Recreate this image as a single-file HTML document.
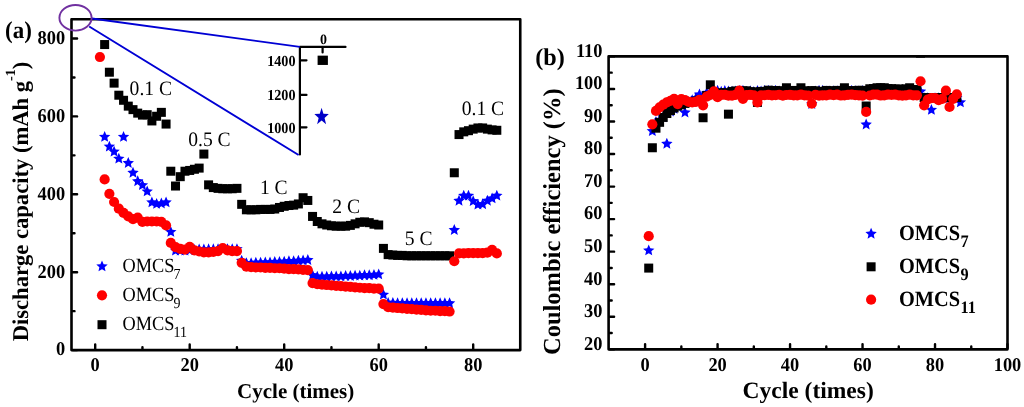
<!DOCTYPE html><html><head><meta charset="utf-8"><style>html,body{margin:0;padding:0;background:#fff;width:1024px;height:407px;overflow:hidden}svg{display:block;will-change:transform}text{font-family:"Liberation Serif",serif}</style></head><body>
<svg width="1024" height="407" viewBox="0 0 1024 407" text-rendering="geometricPrecision">
<defs><clipPath id="ca"><rect x="71.5" y="19" width="448.75" height="331.1"/></clipPath><clipPath id="cb"><rect x="608.6" y="56.4" width="398.9" height="292.95"/></clipPath></defs>
<g clip-path="url(#ca)">
<rect x="100.15" y="40.05" width="9" height="9" fill="#000"/>
<rect x="104.88" y="67.72" width="9" height="9" fill="#000"/>
<rect x="109.60" y="78.63" width="9" height="9" fill="#000"/>
<rect x="114.33" y="90.71" width="9" height="9" fill="#000"/>
<rect x="119.05" y="95.78" width="9" height="9" fill="#000"/>
<rect x="123.78" y="101.63" width="9" height="9" fill="#000"/>
<rect x="128.50" y="105.13" width="9" height="9" fill="#000"/>
<rect x="133.22" y="108.64" width="9" height="9" fill="#000"/>
<rect x="137.95" y="110.59" width="9" height="9" fill="#000"/>
<rect x="142.68" y="110.20" width="9" height="9" fill="#000"/>
<rect x="147.40" y="116.44" width="9" height="9" fill="#000"/>
<rect x="152.12" y="111.76" width="9" height="9" fill="#000"/>
<rect x="156.85" y="107.86" width="9" height="9" fill="#000"/>
<rect x="161.57" y="119.56" width="9" height="9" fill="#000"/>
<rect x="166.30" y="166.72" width="9" height="9" fill="#000"/>
<rect x="171.02" y="181.53" width="9" height="9" fill="#000"/>
<rect x="175.75" y="172.17" width="9" height="9" fill="#000"/>
<rect x="180.47" y="166.72" width="9" height="9" fill="#000"/>
<rect x="185.20" y="165.94" width="9" height="9" fill="#000"/>
<rect x="189.93" y="164.77" width="9" height="9" fill="#000"/>
<rect x="194.65" y="163.60" width="9" height="9" fill="#000"/>
<rect x="199.38" y="149.57" width="9" height="9" fill="#000"/>
<rect x="204.10" y="180.36" width="9" height="9" fill="#000"/>
<rect x="208.82" y="183.08" width="9" height="9" fill="#000"/>
<rect x="213.55" y="183.86" width="9" height="9" fill="#000"/>
<rect x="218.27" y="184.25" width="9" height="9" fill="#000"/>
<rect x="223.00" y="184.25" width="9" height="9" fill="#000"/>
<rect x="227.72" y="184.25" width="9" height="9" fill="#000"/>
<rect x="232.45" y="183.86" width="9" height="9" fill="#000"/>
<rect x="237.18" y="199.84" width="9" height="9" fill="#000"/>
<rect x="241.90" y="205.30" width="9" height="9" fill="#000"/>
<rect x="246.62" y="205.30" width="9" height="9" fill="#000"/>
<rect x="251.35" y="205.30" width="9" height="9" fill="#000"/>
<rect x="256.07" y="204.91" width="9" height="9" fill="#000"/>
<rect x="260.80" y="204.91" width="9" height="9" fill="#000"/>
<rect x="265.52" y="204.91" width="9" height="9" fill="#000"/>
<rect x="270.25" y="204.52" width="9" height="9" fill="#000"/>
<rect x="274.97" y="202.96" width="9" height="9" fill="#000"/>
<rect x="279.70" y="201.79" width="9" height="9" fill="#000"/>
<rect x="284.43" y="201.01" width="9" height="9" fill="#000"/>
<rect x="289.15" y="200.62" width="9" height="9" fill="#000"/>
<rect x="293.88" y="199.45" width="9" height="9" fill="#000"/>
<rect x="298.60" y="193.22" width="9" height="9" fill="#000"/>
<rect x="303.32" y="195.95" width="9" height="9" fill="#000"/>
<rect x="308.05" y="211.93" width="9" height="9" fill="#000"/>
<rect x="312.77" y="216.99" width="9" height="9" fill="#000"/>
<rect x="317.50" y="219.33" width="9" height="9" fill="#000"/>
<rect x="322.22" y="220.50" width="9" height="9" fill="#000"/>
<rect x="326.95" y="221.28" width="9" height="9" fill="#000"/>
<rect x="331.68" y="221.67" width="9" height="9" fill="#000"/>
<rect x="336.40" y="221.67" width="9" height="9" fill="#000"/>
<rect x="341.12" y="221.67" width="9" height="9" fill="#000"/>
<rect x="345.85" y="220.89" width="9" height="9" fill="#000"/>
<rect x="350.57" y="219.33" width="9" height="9" fill="#000"/>
<rect x="355.30" y="217.77" width="9" height="9" fill="#000"/>
<rect x="360.02" y="217.38" width="9" height="9" fill="#000"/>
<rect x="364.75" y="218.16" width="9" height="9" fill="#000"/>
<rect x="369.47" y="219.72" width="9" height="9" fill="#000"/>
<rect x="374.20" y="220.50" width="9" height="9" fill="#000"/>
<rect x="378.92" y="243.89" width="9" height="9" fill="#000"/>
<rect x="383.65" y="250.12" width="9" height="9" fill="#000"/>
<rect x="388.37" y="250.51" width="9" height="9" fill="#000"/>
<rect x="393.10" y="250.90" width="9" height="9" fill="#000"/>
<rect x="397.82" y="250.90" width="9" height="9" fill="#000"/>
<rect x="402.55" y="251.29" width="9" height="9" fill="#000"/>
<rect x="407.27" y="251.29" width="9" height="9" fill="#000"/>
<rect x="412.00" y="251.29" width="9" height="9" fill="#000"/>
<rect x="416.72" y="251.29" width="9" height="9" fill="#000"/>
<rect x="421.45" y="251.29" width="9" height="9" fill="#000"/>
<rect x="426.17" y="251.29" width="9" height="9" fill="#000"/>
<rect x="430.90" y="251.29" width="9" height="9" fill="#000"/>
<rect x="435.62" y="251.29" width="9" height="9" fill="#000"/>
<rect x="440.35" y="251.29" width="9" height="9" fill="#000"/>
<rect x="445.07" y="251.29" width="9" height="9" fill="#000"/>
<rect x="449.80" y="168.27" width="9" height="9" fill="#000"/>
<rect x="454.52" y="130.08" width="9" height="9" fill="#000"/>
<rect x="459.25" y="127.35" width="9" height="9" fill="#000"/>
<rect x="463.97" y="126.18" width="9" height="9" fill="#000"/>
<rect x="468.70" y="124.62" width="9" height="9" fill="#000"/>
<rect x="473.42" y="123.45" width="9" height="9" fill="#000"/>
<rect x="478.15" y="123.45" width="9" height="9" fill="#000"/>
<rect x="482.87" y="124.62" width="9" height="9" fill="#000"/>
<rect x="487.60" y="125.40" width="9" height="9" fill="#000"/>
<rect x="492.32" y="125.79" width="9" height="9" fill="#000"/>
<polygon points="104.65,130.92 106.27,134.68 110.36,135.06 107.27,137.77 108.18,141.77 104.65,139.68 101.12,141.77 102.03,137.77 98.94,135.06 103.03,134.68" fill="#0000ff"/>
<polygon points="109.38,140.66 111.00,144.43 115.08,144.81 112.00,147.51 112.90,151.51 109.38,149.42 105.85,151.51 106.75,147.51 103.67,144.81 107.75,144.43" fill="#0000ff"/>
<polygon points="114.10,145.73 115.72,149.49 119.81,149.87 116.72,152.58 117.63,156.58 114.10,154.49 110.57,156.58 111.48,152.58 108.39,149.87 112.48,149.49" fill="#0000ff"/>
<polygon points="118.83,152.74 120.45,156.51 124.53,156.89 121.45,159.60 122.35,163.60 118.83,161.50 115.30,163.60 116.20,159.60 113.12,156.89 117.20,156.51" fill="#0000ff"/>
<polygon points="123.55,130.92 125.17,134.68 129.26,135.06 126.17,137.77 127.08,141.77 123.55,139.68 120.02,141.77 120.93,137.77 117.84,135.06 121.93,134.68" fill="#0000ff"/>
<polygon points="128.28,157.03 129.90,160.80 133.98,161.18 130.90,163.88 131.80,167.88 128.28,165.79 124.75,167.88 125.65,163.88 122.57,161.18 126.65,160.80" fill="#0000ff"/>
<polygon points="133.00,166.77 134.62,170.54 138.71,170.92 135.62,173.63 136.53,177.63 133.00,175.53 129.47,177.63 130.38,173.63 127.29,170.92 131.38,170.54" fill="#0000ff"/>
<polygon points="137.72,175.35 139.35,179.12 143.43,179.49 140.35,182.20 141.25,186.20 137.72,184.11 134.20,186.20 135.10,182.20 132.02,179.49 136.10,179.12" fill="#0000ff"/>
<polygon points="142.45,179.25 144.07,183.01 148.16,183.39 145.07,186.10 145.98,190.10 142.45,188.01 138.92,190.10 139.83,186.10 136.74,183.39 140.83,183.01" fill="#0000ff"/>
<polygon points="147.18,185.48 148.80,189.25 152.88,189.63 149.80,192.33 150.70,196.34 147.18,194.24 143.65,196.34 144.55,192.33 141.47,189.63 145.55,189.25" fill="#0000ff"/>
<polygon points="151.90,196.40 153.52,200.16 157.61,200.54 154.52,203.25 155.43,207.25 151.90,205.16 148.37,207.25 149.28,203.25 146.19,200.54 150.28,200.16" fill="#0000ff"/>
<polygon points="156.62,197.95 158.25,201.72 162.33,202.10 159.25,204.81 160.15,208.81 156.62,206.71 153.10,208.81 154.00,204.81 150.92,202.10 155.00,201.72" fill="#0000ff"/>
<polygon points="161.35,197.56 162.97,201.33 167.06,201.71 163.97,204.42 164.88,208.42 161.35,206.32 157.82,208.42 158.73,204.42 155.64,201.71 159.73,201.33" fill="#0000ff"/>
<polygon points="166.07,196.40 167.70,200.16 171.78,200.54 168.70,203.25 169.60,207.25 166.07,205.16 162.55,207.25 163.45,203.25 160.37,200.54 164.45,200.16" fill="#0000ff"/>
<polygon points="170.80,226.02 172.42,229.78 176.51,230.16 173.42,232.87 174.33,236.87 170.80,234.78 167.27,236.87 168.18,232.87 165.09,230.16 169.18,229.78" fill="#0000ff"/>
<polygon points="175.52,244.72 177.15,248.49 181.23,248.87 178.15,251.58 179.05,255.58 175.52,253.48 172.00,255.58 172.90,251.58 169.82,248.87 173.90,248.49" fill="#0000ff"/>
<polygon points="180.25,244.72 181.87,248.49 185.96,248.87 182.87,251.58 183.78,255.58 180.25,253.48 176.72,255.58 177.63,251.58 174.54,248.87 178.63,248.49" fill="#0000ff"/>
<polygon points="184.97,244.72 186.60,248.49 190.68,248.87 187.60,251.58 188.50,255.58 184.97,253.48 181.45,255.58 182.35,251.58 179.27,248.87 183.35,248.49" fill="#0000ff"/>
<polygon points="189.70,244.33 191.32,248.10 195.41,248.48 192.32,251.19 193.23,255.19 189.70,253.09 186.17,255.19 187.08,251.19 183.99,248.48 188.08,248.10" fill="#0000ff"/>
<polygon points="194.43,243.94 196.05,247.71 200.13,248.09 197.05,250.80 197.95,254.80 194.43,252.70 190.90,254.80 191.80,250.80 188.72,248.09 192.80,247.71" fill="#0000ff"/>
<polygon points="199.15,243.55 200.77,247.32 204.86,247.70 201.77,250.41 202.68,254.41 199.15,252.31 195.62,254.41 196.53,250.41 193.44,247.70 197.53,247.32" fill="#0000ff"/>
<polygon points="203.88,243.55 205.50,247.32 209.58,247.70 206.50,250.41 207.40,254.41 203.88,252.31 200.35,254.41 201.25,250.41 198.17,247.70 202.25,247.32" fill="#0000ff"/>
<polygon points="208.60,243.36 210.22,247.13 214.31,247.51 211.22,250.21 212.13,254.21 208.60,252.12 205.07,254.21 205.98,250.21 202.89,247.51 206.98,247.13" fill="#0000ff"/>
<polygon points="213.32,243.36 214.95,247.13 219.03,247.51 215.95,250.21 216.85,254.21 213.32,252.12 209.80,254.21 210.70,250.21 207.62,247.51 211.70,247.13" fill="#0000ff"/>
<polygon points="218.05,243.17 219.67,246.93 223.76,247.31 220.67,250.02 221.58,254.02 218.05,251.93 214.52,254.02 215.43,250.02 212.34,247.31 216.43,246.93" fill="#0000ff"/>
<polygon points="222.77,243.17 224.40,246.93 228.48,247.31 225.40,250.02 226.30,254.02 222.77,251.93 219.25,254.02 220.15,250.02 217.07,247.31 221.15,246.93" fill="#0000ff"/>
<polygon points="227.50,243.17 229.12,246.93 233.21,247.31 230.12,250.02 231.03,254.02 227.50,251.93 223.97,254.02 224.88,250.02 221.79,247.31 225.88,246.93" fill="#0000ff"/>
<polygon points="232.22,243.17 233.85,246.93 237.93,247.31 234.85,250.02 235.75,254.02 232.22,251.93 228.70,254.02 229.60,250.02 226.52,247.31 230.60,246.93" fill="#0000ff"/>
<polygon points="236.95,243.17 238.57,246.93 242.66,247.31 239.57,250.02 240.48,254.02 236.95,251.93 233.42,254.02 234.33,250.02 231.24,247.31 235.33,246.93" fill="#0000ff"/>
<polygon points="241.68,254.86 243.30,258.62 247.38,259.00 244.30,261.71 245.20,265.71 241.68,263.62 238.15,265.71 239.05,261.71 235.97,259.00 240.05,258.62" fill="#0000ff"/>
<polygon points="246.40,257.20 248.02,260.96 252.11,261.34 249.02,264.05 249.93,268.05 246.40,265.96 242.87,268.05 243.78,264.05 240.69,261.34 244.78,260.96" fill="#0000ff"/>
<polygon points="251.12,257.20 252.75,260.96 256.83,261.34 253.75,264.05 254.65,268.05 251.12,265.96 247.60,268.05 248.50,264.05 245.42,261.34 249.50,260.96" fill="#0000ff"/>
<polygon points="255.85,256.81 257.47,260.57 261.56,260.95 258.47,263.66 259.38,267.66 255.85,265.57 252.32,267.66 253.23,263.66 250.14,260.95 254.23,260.57" fill="#0000ff"/>
<polygon points="260.57,256.81 262.20,260.57 266.28,260.95 263.20,263.66 264.10,267.66 260.57,265.57 257.05,267.66 257.95,263.66 254.87,260.95 258.95,260.57" fill="#0000ff"/>
<polygon points="265.30,256.42 266.92,260.18 271.01,260.56 267.92,263.27 268.83,267.27 265.30,265.18 261.77,267.27 262.68,263.27 259.59,260.56 263.68,260.18" fill="#0000ff"/>
<polygon points="270.02,256.42 271.65,260.18 275.73,260.56 272.65,263.27 273.55,267.27 270.02,265.18 266.50,267.27 267.40,263.27 264.32,260.56 268.40,260.18" fill="#0000ff"/>
<polygon points="274.75,256.03 276.37,259.79 280.46,260.17 277.37,262.88 278.28,266.88 274.75,264.79 271.22,266.88 272.13,262.88 269.04,260.17 273.13,259.79" fill="#0000ff"/>
<polygon points="279.47,256.03 281.10,259.79 285.18,260.17 282.10,262.88 283.00,266.88 279.47,264.79 275.95,266.88 276.85,262.88 273.77,260.17 277.85,259.79" fill="#0000ff"/>
<polygon points="284.20,255.64 285.82,259.40 289.91,259.78 286.82,262.49 287.73,266.49 284.20,264.40 280.67,266.49 281.58,262.49 278.49,259.78 282.58,259.40" fill="#0000ff"/>
<polygon points="288.93,255.25 290.55,259.01 294.63,259.39 291.55,262.10 292.45,266.10 288.93,264.01 285.40,266.10 286.30,262.10 283.22,259.39 287.30,259.01" fill="#0000ff"/>
<polygon points="293.65,255.25 295.27,259.01 299.36,259.39 296.27,262.10 297.18,266.10 293.65,264.01 290.12,266.10 291.03,262.10 287.94,259.39 292.03,259.01" fill="#0000ff"/>
<polygon points="298.38,254.86 300.00,258.62 304.08,259.00 301.00,261.71 301.90,265.71 298.38,263.62 294.85,265.71 295.75,261.71 292.67,259.00 296.75,258.62" fill="#0000ff"/>
<polygon points="303.10,254.47 304.72,258.23 308.81,258.61 305.72,261.32 306.63,265.32 303.10,263.23 299.57,265.32 300.48,261.32 297.39,258.61 301.48,258.23" fill="#0000ff"/>
<polygon points="307.82,254.08 309.45,257.85 313.53,258.22 310.45,260.93 311.35,264.93 307.82,262.84 304.30,264.93 305.20,260.93 302.12,258.22 306.20,257.85" fill="#0000ff"/>
<polygon points="312.55,269.28 314.17,273.05 318.26,273.42 315.17,276.13 316.08,280.13 312.55,278.04 309.02,280.13 309.93,276.13 306.84,273.42 310.93,273.05" fill="#0000ff"/>
<polygon points="317.27,270.84 318.90,274.60 322.98,274.98 319.90,277.69 320.80,281.69 317.27,279.60 313.75,281.69 314.65,277.69 311.57,274.98 315.65,274.60" fill="#0000ff"/>
<polygon points="322.00,270.84 323.62,274.60 327.71,274.98 324.62,277.69 325.53,281.69 322.00,279.60 318.47,281.69 319.38,277.69 316.29,274.98 320.38,274.60" fill="#0000ff"/>
<polygon points="326.72,270.84 328.35,274.60 332.43,274.98 329.35,277.69 330.25,281.69 326.72,279.60 323.20,281.69 324.10,277.69 321.02,274.98 325.10,274.60" fill="#0000ff"/>
<polygon points="331.45,270.45 333.07,274.21 337.16,274.59 334.07,277.30 334.98,281.30 331.45,279.21 327.92,281.30 328.83,277.30 325.74,274.59 329.83,274.21" fill="#0000ff"/>
<polygon points="336.18,270.45 337.80,274.21 341.88,274.59 338.80,277.30 339.70,281.30 336.18,279.21 332.65,281.30 333.55,277.30 330.47,274.59 334.55,274.21" fill="#0000ff"/>
<polygon points="340.90,270.45 342.52,274.21 346.61,274.59 343.52,277.30 344.43,281.30 340.90,279.21 337.37,281.30 338.28,277.30 335.19,274.59 339.28,274.21" fill="#0000ff"/>
<polygon points="345.62,270.06 347.25,273.82 351.33,274.20 348.25,276.91 349.15,280.91 345.62,278.82 342.10,280.91 343.00,276.91 339.92,274.20 344.00,273.82" fill="#0000ff"/>
<polygon points="350.35,270.06 351.97,273.82 356.06,274.20 352.97,276.91 353.88,280.91 350.35,278.82 346.82,280.91 347.73,276.91 344.64,274.20 348.73,273.82" fill="#0000ff"/>
<polygon points="355.07,269.67 356.70,273.44 360.78,273.81 357.70,276.52 358.60,280.52 355.07,278.43 351.55,280.52 352.45,276.52 349.37,273.81 353.45,273.44" fill="#0000ff"/>
<polygon points="359.80,269.67 361.42,273.44 365.51,273.81 362.42,276.52 363.33,280.52 359.80,278.43 356.27,280.52 357.18,276.52 354.09,273.81 358.18,273.44" fill="#0000ff"/>
<polygon points="364.52,269.28 366.15,273.05 370.23,273.42 367.15,276.13 368.05,280.13 364.52,278.04 361.00,280.13 361.90,276.13 358.82,273.42 362.90,273.05" fill="#0000ff"/>
<polygon points="369.25,269.28 370.87,273.05 374.96,273.42 371.87,276.13 372.78,280.13 369.25,278.04 365.72,280.13 366.63,276.13 363.54,273.42 367.63,273.05" fill="#0000ff"/>
<polygon points="373.97,268.89 375.60,272.66 379.68,273.03 376.60,275.74 377.50,279.74 373.97,277.65 370.45,279.74 371.35,275.74 368.27,273.03 372.35,272.66" fill="#0000ff"/>
<polygon points="378.70,268.50 380.32,272.27 384.41,272.64 381.32,275.35 382.23,279.35 378.70,277.26 375.17,279.35 376.08,275.35 372.99,272.64 377.08,272.27" fill="#0000ff"/>
<polygon points="383.42,288.77 385.05,292.53 389.13,292.91 386.05,295.62 386.95,299.62 383.42,297.53 379.90,299.62 380.80,295.62 377.72,292.91 381.80,292.53" fill="#0000ff"/>
<polygon points="388.15,296.95 389.77,300.72 393.86,301.10 390.77,303.80 391.68,307.80 388.15,305.71 384.62,307.80 385.53,303.80 382.44,301.10 386.53,300.72" fill="#0000ff"/>
<polygon points="392.87,296.95 394.50,300.72 398.58,301.10 395.50,303.80 396.40,307.80 392.87,305.71 389.35,307.80 390.25,303.80 387.17,301.10 391.25,300.72" fill="#0000ff"/>
<polygon points="397.60,297.34 399.22,301.11 403.31,301.49 400.22,304.19 401.13,308.19 397.60,306.10 394.07,308.19 394.98,304.19 391.89,301.49 395.98,301.11" fill="#0000ff"/>
<polygon points="402.32,297.34 403.95,301.11 408.03,301.49 404.95,304.19 405.85,308.19 402.32,306.10 398.80,308.19 399.70,304.19 396.62,301.49 400.70,301.11" fill="#0000ff"/>
<polygon points="407.05,297.34 408.67,301.11 412.76,301.49 409.67,304.19 410.58,308.19 407.05,306.10 403.52,308.19 404.43,304.19 401.34,301.49 405.43,301.11" fill="#0000ff"/>
<polygon points="411.77,297.34 413.40,301.11 417.48,301.49 414.40,304.19 415.30,308.19 411.77,306.10 408.25,308.19 409.15,304.19 406.07,301.49 410.15,301.11" fill="#0000ff"/>
<polygon points="416.50,297.34 418.12,301.11 422.21,301.49 419.12,304.19 420.03,308.19 416.50,306.10 412.97,308.19 413.88,304.19 410.79,301.49 414.88,301.11" fill="#0000ff"/>
<polygon points="421.22,297.34 422.85,301.11 426.93,301.49 423.85,304.19 424.75,308.19 421.22,306.10 417.70,308.19 418.60,304.19 415.52,301.49 419.60,301.11" fill="#0000ff"/>
<polygon points="425.95,297.34 427.57,301.11 431.66,301.49 428.57,304.19 429.48,308.19 425.95,306.10 422.42,308.19 423.33,304.19 420.24,301.49 424.33,301.11" fill="#0000ff"/>
<polygon points="430.67,297.34 432.30,301.11 436.38,301.49 433.30,304.19 434.20,308.19 430.67,306.10 427.15,308.19 428.05,304.19 424.97,301.49 429.05,301.11" fill="#0000ff"/>
<polygon points="435.40,297.34 437.02,301.11 441.11,301.49 438.02,304.19 438.93,308.19 435.40,306.10 431.87,308.19 432.78,304.19 429.69,301.49 433.78,301.11" fill="#0000ff"/>
<polygon points="440.12,297.34 441.75,301.11 445.83,301.49 442.75,304.19 443.65,308.19 440.12,306.10 436.60,308.19 437.50,304.19 434.42,301.49 438.50,301.11" fill="#0000ff"/>
<polygon points="444.85,297.34 446.47,301.11 450.56,301.49 447.47,304.19 448.38,308.19 444.85,306.10 441.32,308.19 442.23,304.19 439.14,301.49 443.23,301.11" fill="#0000ff"/>
<polygon points="449.57,297.34 451.20,301.11 455.28,301.49 452.20,304.19 453.10,308.19 449.57,306.10 446.05,308.19 446.95,304.19 443.87,301.49 447.95,301.11" fill="#0000ff"/>
<polygon points="454.30,224.07 455.92,227.83 460.01,228.21 456.92,230.92 457.83,234.92 454.30,232.83 450.77,234.92 451.68,230.92 448.59,228.21 452.68,227.83" fill="#0000ff"/>
<polygon points="459.02,194.84 460.65,198.60 464.73,198.98 461.65,201.69 462.55,205.69 459.02,203.60 455.50,205.69 456.40,201.69 453.32,198.98 457.40,198.60" fill="#0000ff"/>
<polygon points="463.75,189.77 465.37,193.54 469.46,193.92 466.37,196.62 467.28,200.62 463.75,198.53 460.22,200.62 461.13,196.62 458.04,193.92 462.13,193.54" fill="#0000ff"/>
<polygon points="468.47,189.77 470.10,193.54 474.18,193.92 471.10,196.62 472.00,200.62 468.47,198.53 464.95,200.62 465.85,196.62 462.77,193.92 466.85,193.54" fill="#0000ff"/>
<polygon points="473.20,195.23 474.82,198.99 478.91,199.37 475.82,202.08 476.73,206.08 473.20,203.99 469.67,206.08 470.58,202.08 467.49,199.37 471.58,198.99" fill="#0000ff"/>
<polygon points="477.92,198.73 479.55,202.50 483.63,202.88 480.55,205.59 481.45,209.59 477.92,207.49 474.40,209.59 475.30,205.59 472.22,202.88 476.30,202.50" fill="#0000ff"/>
<polygon points="482.65,198.34 484.27,202.11 488.36,202.49 485.27,205.20 486.18,209.20 482.65,207.10 479.12,209.20 480.03,205.20 476.94,202.49 481.03,202.11" fill="#0000ff"/>
<polygon points="487.37,194.84 489.00,198.60 493.08,198.98 490.00,201.69 490.90,205.69 487.37,203.60 483.85,205.69 484.75,201.69 481.67,198.98 485.75,198.60" fill="#0000ff"/>
<polygon points="492.10,192.50 493.72,196.26 497.81,196.64 494.72,199.35 495.63,203.35 492.10,201.26 488.57,203.35 489.48,199.35 486.39,196.64 490.48,196.26" fill="#0000ff"/>
<polygon points="496.82,189.77 498.45,193.54 502.53,193.92 499.45,196.62 500.35,200.62 496.82,198.53 493.30,200.62 494.20,196.62 491.12,193.92 495.20,193.54" fill="#0000ff"/>
<circle cx="99.92" cy="57.02" r="5.1" fill="#f00"/>
<circle cx="104.65" cy="179.40" r="5.1" fill="#f00"/>
<circle cx="109.38" cy="193.82" r="5.1" fill="#f00"/>
<circle cx="114.10" cy="202.01" r="5.1" fill="#f00"/>
<circle cx="118.83" cy="208.63" r="5.1" fill="#f00"/>
<circle cx="123.55" cy="212.92" r="5.1" fill="#f00"/>
<circle cx="128.28" cy="216.43" r="5.1" fill="#f00"/>
<circle cx="133.00" cy="219.15" r="5.1" fill="#f00"/>
<circle cx="137.72" cy="217.60" r="5.1" fill="#f00"/>
<circle cx="142.45" cy="221.88" r="5.1" fill="#f00"/>
<circle cx="147.18" cy="221.49" r="5.1" fill="#f00"/>
<circle cx="151.90" cy="221.49" r="5.1" fill="#f00"/>
<circle cx="156.62" cy="221.49" r="5.1" fill="#f00"/>
<circle cx="161.35" cy="221.88" r="5.1" fill="#f00"/>
<circle cx="166.07" cy="225.39" r="5.1" fill="#f00"/>
<circle cx="170.80" cy="242.93" r="5.1" fill="#f00"/>
<circle cx="175.52" cy="247.22" r="5.1" fill="#f00"/>
<circle cx="180.25" cy="248.78" r="5.1" fill="#f00"/>
<circle cx="184.97" cy="249.55" r="5.1" fill="#f00"/>
<circle cx="189.70" cy="246.83" r="5.1" fill="#f00"/>
<circle cx="194.43" cy="250.33" r="5.1" fill="#f00"/>
<circle cx="199.15" cy="251.50" r="5.1" fill="#f00"/>
<circle cx="203.88" cy="252.28" r="5.1" fill="#f00"/>
<circle cx="208.60" cy="252.28" r="5.1" fill="#f00"/>
<circle cx="213.32" cy="251.89" r="5.1" fill="#f00"/>
<circle cx="218.05" cy="251.11" r="5.1" fill="#f00"/>
<circle cx="222.77" cy="248.00" r="5.1" fill="#f00"/>
<circle cx="227.50" cy="250.33" r="5.1" fill="#f00"/>
<circle cx="232.22" cy="251.11" r="5.1" fill="#f00"/>
<circle cx="236.95" cy="251.11" r="5.1" fill="#f00"/>
<circle cx="241.68" cy="262.81" r="5.1" fill="#f00"/>
<circle cx="246.40" cy="266.70" r="5.1" fill="#f00"/>
<circle cx="251.12" cy="267.09" r="5.1" fill="#f00"/>
<circle cx="255.85" cy="267.48" r="5.1" fill="#f00"/>
<circle cx="260.57" cy="267.48" r="5.1" fill="#f00"/>
<circle cx="265.30" cy="267.87" r="5.1" fill="#f00"/>
<circle cx="270.02" cy="267.87" r="5.1" fill="#f00"/>
<circle cx="274.75" cy="268.26" r="5.1" fill="#f00"/>
<circle cx="279.47" cy="268.26" r="5.1" fill="#f00"/>
<circle cx="284.20" cy="268.65" r="5.1" fill="#f00"/>
<circle cx="288.93" cy="269.04" r="5.1" fill="#f00"/>
<circle cx="293.65" cy="269.04" r="5.1" fill="#f00"/>
<circle cx="298.38" cy="269.43" r="5.1" fill="#f00"/>
<circle cx="303.10" cy="269.82" r="5.1" fill="#f00"/>
<circle cx="307.82" cy="270.21" r="5.1" fill="#f00"/>
<circle cx="312.55" cy="283.07" r="5.1" fill="#f00"/>
<circle cx="317.27" cy="284.24" r="5.1" fill="#f00"/>
<circle cx="322.00" cy="284.63" r="5.1" fill="#f00"/>
<circle cx="326.72" cy="285.02" r="5.1" fill="#f00"/>
<circle cx="331.45" cy="285.41" r="5.1" fill="#f00"/>
<circle cx="336.18" cy="285.80" r="5.1" fill="#f00"/>
<circle cx="340.90" cy="286.19" r="5.1" fill="#f00"/>
<circle cx="345.62" cy="286.58" r="5.1" fill="#f00"/>
<circle cx="350.35" cy="286.97" r="5.1" fill="#f00"/>
<circle cx="355.07" cy="287.36" r="5.1" fill="#f00"/>
<circle cx="359.80" cy="287.75" r="5.1" fill="#f00"/>
<circle cx="364.52" cy="288.14" r="5.1" fill="#f00"/>
<circle cx="369.25" cy="288.14" r="5.1" fill="#f00"/>
<circle cx="373.97" cy="288.53" r="5.1" fill="#f00"/>
<circle cx="378.70" cy="288.53" r="5.1" fill="#f00"/>
<circle cx="383.42" cy="304.12" r="5.1" fill="#f00"/>
<circle cx="388.15" cy="307.24" r="5.1" fill="#f00"/>
<circle cx="392.87" cy="307.63" r="5.1" fill="#f00"/>
<circle cx="397.60" cy="308.02" r="5.1" fill="#f00"/>
<circle cx="402.32" cy="308.41" r="5.1" fill="#f00"/>
<circle cx="407.05" cy="308.80" r="5.1" fill="#f00"/>
<circle cx="411.77" cy="309.19" r="5.1" fill="#f00"/>
<circle cx="416.50" cy="309.58" r="5.1" fill="#f00"/>
<circle cx="421.22" cy="309.97" r="5.1" fill="#f00"/>
<circle cx="425.95" cy="310.36" r="5.1" fill="#f00"/>
<circle cx="430.67" cy="310.75" r="5.1" fill="#f00"/>
<circle cx="435.40" cy="310.75" r="5.1" fill="#f00"/>
<circle cx="440.12" cy="311.14" r="5.1" fill="#f00"/>
<circle cx="444.85" cy="311.14" r="5.1" fill="#f00"/>
<circle cx="449.57" cy="311.52" r="5.1" fill="#f00"/>
<circle cx="454.30" cy="261.25" r="5.1" fill="#f00"/>
<circle cx="459.02" cy="253.45" r="5.1" fill="#f00"/>
<circle cx="463.75" cy="253.45" r="5.1" fill="#f00"/>
<circle cx="468.47" cy="253.06" r="5.1" fill="#f00"/>
<circle cx="473.20" cy="253.06" r="5.1" fill="#f00"/>
<circle cx="477.92" cy="253.06" r="5.1" fill="#f00"/>
<circle cx="482.65" cy="253.06" r="5.1" fill="#f00"/>
<circle cx="487.37" cy="252.67" r="5.1" fill="#f00"/>
<circle cx="492.10" cy="249.94" r="5.1" fill="#f00"/>
<circle cx="496.82" cy="253.45" r="5.1" fill="#f00"/>
</g>
<rect x="71.5" y="19.2" width="448.75" height="330.9" fill="none" stroke="#000" stroke-width="2.6" stroke-linejoin="round"/>
<path d="M72.8 350.10h4.3 M72.8 311.15h1.7 M72.8 272.20h4.3 M72.8 233.25h1.7 M72.8 194.30h4.3 M72.8 155.35h1.7 M72.8 116.40h4.3 M72.8 77.45h1.7 M72.8 38.50h4.3 M95.20 348.8v-4.4 M142.45 348.8v-1.7 M189.70 348.8v-4.4 M236.95 348.8v-1.7 M284.20 348.8v-4.4 M331.45 348.8v-1.7 M378.70 348.8v-4.4 M425.95 348.8v-1.7 M473.20 348.8v-4.4" stroke="#000" stroke-width="2.4" fill="none" stroke-linecap="round"/>
<text transform="translate(65.10,355.48) scale(1.0,1.06)" font-size="18.4" font-weight="bold" text-anchor="end">0</text>
<text transform="translate(65.10,277.58) scale(1.0,1.06)" font-size="18.4" font-weight="bold" text-anchor="end">200</text>
<text transform="translate(65.10,199.68) scale(1.0,1.06)" font-size="18.4" font-weight="bold" text-anchor="end">400</text>
<text transform="translate(65.10,121.78) scale(1.0,1.06)" font-size="18.4" font-weight="bold" text-anchor="end">600</text>
<text transform="translate(65.10,43.88) scale(1.0,1.06)" font-size="18.4" font-weight="bold" text-anchor="end">800</text>
<text transform="translate(95.20,370.50) scale(1.0,1.06)" font-size="18.4" font-weight="bold" text-anchor="middle">0</text>
<text transform="translate(189.70,370.50) scale(1.0,1.06)" font-size="18.4" font-weight="bold" text-anchor="middle">20</text>
<text transform="translate(284.20,370.50) scale(1.0,1.06)" font-size="18.4" font-weight="bold" text-anchor="middle">40</text>
<text transform="translate(378.70,370.50) scale(1.0,1.06)" font-size="18.4" font-weight="bold" text-anchor="middle">60</text>
<text transform="translate(473.20,370.50) scale(1.0,1.06)" font-size="18.4" font-weight="bold" text-anchor="middle">80</text>
<text x="295.70" y="398.30" font-size="21" font-weight="bold" text-anchor="middle">Cycle (times)</text>
<text transform="translate(27.5,201.5) rotate(-90)" font-size="22.6" font-weight="bold" text-anchor="middle">Discharge capacity (mAh g<tspan dy="-13" font-size="14">-1</tspan><tspan dy="13">)</tspan></text>
<text transform="translate(5.00,38.40) scale(1.0,1.05)" font-size="23.0" font-weight="bold">(a)</text>
<text transform="translate(129.60,95.00) scale(1.0,1.05)" font-size="19.6">0.1 C</text>
<text transform="translate(188.20,146.30) scale(1.0,1.05)" font-size="19.6">0.5 C</text>
<text transform="translate(259.90,194.20) scale(1.0,1.05)" font-size="19.6">1 C</text>
<text transform="translate(332.20,213.00) scale(1.0,1.05)" font-size="19.6">2 C</text>
<text transform="translate(404.80,244.60) scale(1.0,1.05)" font-size="19.6">5 C</text>
<text transform="translate(461.70,115.20) scale(1.0,1.05)" font-size="19.6">0.1 C</text>
<polygon points="102.00,260.40 103.62,264.17 107.71,264.55 104.62,267.25 105.53,271.25 102.00,269.16 98.47,271.25 99.38,267.25 96.29,264.55 100.38,264.17" fill="#0000ff"/>
<circle cx="102.00" cy="295.30" r="5.1" fill="#f00"/>
<rect x="97.50" y="320.20" width="9" height="9" fill="#000"/>
<text transform="translate(122.60,272.10) scale(1.0,1.1)" font-size="18.3">OMCS<tspan dx="-0.8" dy="6.5" font-size="14">7</tspan></text>
<text transform="translate(122.60,300.80) scale(1.0,1.1)" font-size="18.3">OMCS<tspan dx="-0.8" dy="6.5" font-size="14">9</tspan></text>
<text transform="translate(122.60,330.00) scale(1.0,1.1)" font-size="18.3">OMCS<tspan dx="-0.8" dy="6.5" font-size="14">11</tspan></text>
<path d="M299.9 154.4V46.9H345.5M322.6 47.8v4.6" stroke="#000" stroke-width="2.2" fill="none" stroke-linejoin="round" stroke-linecap="round"/>
<path d="M301 60.3h5.5M301 94.9h5.5M301 127.3h5.5" stroke="#000" stroke-width="2.2" fill="none" stroke-linecap="round"/>
<text transform="translate(295.50,65.80) scale(1.0,1.08)" font-size="14.2" font-weight="bold" text-anchor="end">1400</text>
<text transform="translate(295.50,100.20) scale(1.0,1.08)" font-size="14.2" font-weight="bold" text-anchor="end">1200</text>
<text transform="translate(295.50,132.50) scale(1.0,1.08)" font-size="14.2" font-weight="bold" text-anchor="end">1000</text>
<text transform="translate(323.50,43.60) scale(1.0,1.03)" font-size="14" font-weight="bold" text-anchor="middle">0</text>
<rect x="317.6" y="55.65" width="10.3" height="9.3" fill="#000"/>
<g transform="translate(321.6,116.8) scale(1,1.2)"><polygon points="0.00,-7.60 1.83,-2.52 7.23,-2.35 2.96,0.96 4.47,6.15 0.00,3.12 -4.47,6.15 -2.96,0.96 -7.23,-2.35 -1.83,-2.52" fill="#0000c8"/></g>
<path d="M91.9 18.5L299.9 46.9M89.2 26.5L298.6 155" stroke="#0000d4" stroke-width="1.9" fill="none"/>
<ellipse cx="75.5" cy="17.8" rx="16.1" ry="12.8" fill="none" stroke="#7030a0" stroke-width="1.9"/>
<g clip-path="url(#cb)">
<polygon points="648.72,244.48 650.35,248.25 654.43,248.63 651.35,251.33 652.25,255.34 648.72,253.24 645.20,255.34 646.10,251.33 643.02,248.63 647.10,248.25" fill="#0000ff"/>
<polygon points="652.35,125.13 653.97,128.90 658.05,129.27 654.97,131.98 655.87,135.98 652.35,133.89 648.82,135.98 649.72,131.98 646.64,129.27 650.73,128.90" fill="#0000ff"/>
<polygon points="655.97,116.00 657.59,119.77 661.68,120.14 658.60,122.85 659.50,126.85 655.97,124.76 652.45,126.85 653.35,122.85 650.27,120.14 654.35,119.77" fill="#0000ff"/>
<polygon points="659.60,114.37 661.22,118.13 665.30,118.51 662.22,121.22 663.12,125.22 659.60,123.13 656.07,125.22 656.97,121.22 653.89,118.51 657.97,118.13" fill="#0000ff"/>
<polygon points="663.22,111.43 664.84,115.20 668.93,115.58 665.84,118.29 666.75,122.29 663.22,120.19 659.69,122.29 660.60,118.29 657.51,115.58 661.60,115.20" fill="#0000ff"/>
<polygon points="666.84,137.85 668.47,141.61 672.55,141.99 669.47,144.70 670.37,148.70 666.84,146.61 663.32,148.70 664.22,144.70 661.14,141.99 665.22,141.61" fill="#0000ff"/>
<polygon points="670.47,105.56 672.09,109.33 676.17,109.71 673.09,112.42 673.99,116.42 670.47,114.32 666.94,116.42 667.84,112.42 664.76,109.71 668.85,109.33" fill="#0000ff"/>
<polygon points="674.09,102.95 675.71,106.72 679.80,107.10 676.72,109.81 677.62,113.81 674.09,111.71 670.57,113.81 671.47,109.81 668.39,107.10 672.47,106.72" fill="#0000ff"/>
<polygon points="677.72,100.67 679.34,104.44 683.42,104.82 680.34,107.52 681.24,111.53 677.72,109.43 674.19,111.53 675.09,107.52 672.01,104.82 676.09,104.44" fill="#0000ff"/>
<polygon points="681.34,99.04 682.96,102.81 687.05,103.19 683.96,105.89 684.87,109.90 681.34,107.80 677.81,109.90 678.72,105.89 675.63,103.19 679.72,102.81" fill="#0000ff"/>
<polygon points="684.96,106.54 686.59,110.31 690.67,110.69 687.59,113.39 688.49,117.40 684.96,115.30 681.44,117.40 682.34,113.39 679.26,110.69 683.34,110.31" fill="#0000ff"/>
<polygon points="688.59,96.11 690.21,99.87 694.29,100.25 691.21,102.96 692.11,106.96 688.59,104.87 685.06,106.96 685.96,102.96 682.88,100.25 686.97,99.87" fill="#0000ff"/>
<polygon points="692.21,94.15 693.83,97.92 697.92,98.30 694.84,101.00 695.74,105.00 692.21,102.91 688.69,105.00 689.59,101.00 686.51,98.30 690.59,97.92" fill="#0000ff"/>
<polygon points="695.84,92.19 697.46,95.96 701.54,96.34 698.46,99.05 699.36,103.05 695.84,100.95 692.31,103.05 693.21,99.05 690.13,96.34 694.21,95.96" fill="#0000ff"/>
<polygon points="699.46,88.61 701.08,92.37 705.17,92.75 702.08,95.46 702.99,99.46 699.46,97.37 695.93,99.46 696.84,95.46 693.75,92.75 697.84,92.37" fill="#0000ff"/>
<polygon points="703.08,90.56 704.71,94.33 708.79,94.71 705.71,97.42 706.61,101.42 703.08,99.32 699.56,101.42 700.46,97.42 697.38,94.71 701.46,94.33" fill="#0000ff"/>
<polygon points="706.71,86.98 708.33,90.74 712.41,91.12 709.33,93.83 710.23,97.83 706.71,95.74 703.18,97.83 704.08,93.83 701.00,91.12 705.09,90.74" fill="#0000ff"/>
<polygon points="710.33,86.32 711.95,90.09 716.04,90.47 712.96,93.18 713.86,97.18 710.33,95.08 706.81,97.18 707.71,93.18 704.63,90.47 708.71,90.09" fill="#0000ff"/>
<polygon points="713.96,84.89 715.58,88.66 719.66,89.03 716.58,91.74 717.48,95.74 713.96,93.65 710.43,95.74 711.33,91.74 708.25,89.03 712.33,88.66" fill="#0000ff"/>
<polygon points="717.58,84.69 719.20,88.46 723.29,88.84 720.20,91.55 721.11,95.55 717.58,93.45 714.05,95.55 714.96,91.55 711.87,88.84 715.96,88.46" fill="#0000ff"/>
<polygon points="721.20,85.87 722.83,89.63 726.91,90.01 723.83,92.72 724.73,96.72 721.20,94.63 717.68,96.72 718.58,92.72 715.50,90.01 719.58,89.63" fill="#0000ff"/>
<polygon points="724.83,84.95 726.45,88.72 730.53,89.10 727.45,91.81 728.35,95.81 724.83,93.71 721.30,95.81 722.20,91.81 719.12,89.10 723.21,88.72" fill="#0000ff"/>
<polygon points="728.45,85.48 730.07,89.24 734.16,89.62 731.08,92.33 731.98,96.33 728.45,94.24 724.93,96.33 725.83,92.33 722.75,89.62 726.83,89.24" fill="#0000ff"/>
<polygon points="732.08,85.80 733.70,89.57 737.78,89.95 734.70,92.65 735.60,96.66 732.08,94.56 728.55,96.66 729.45,92.65 726.37,89.95 730.45,89.57" fill="#0000ff"/>
<polygon points="735.70,85.61 737.32,89.37 741.41,89.75 738.32,92.46 739.23,96.46 735.70,94.37 732.17,96.46 733.08,92.46 729.99,89.75 734.08,89.37" fill="#0000ff"/>
<polygon points="739.32,84.99 740.95,88.75 745.03,89.13 741.95,91.84 742.85,95.84 739.32,93.75 735.80,95.84 736.70,91.84 733.62,89.13 737.70,88.75" fill="#0000ff"/>
<polygon points="742.95,84.86 744.57,88.62 748.65,89.00 745.57,91.71 746.47,95.71 742.95,93.62 739.42,95.71 740.32,91.71 737.24,89.00 741.33,88.62" fill="#0000ff"/>
<polygon points="746.57,85.93 748.19,89.70 752.28,90.08 749.20,92.78 750.10,96.79 746.57,94.69 743.05,96.79 743.95,92.78 740.87,90.08 744.95,89.70" fill="#0000ff"/>
<polygon points="750.20,85.18 751.82,88.95 755.90,89.33 752.82,92.03 753.72,96.04 750.20,93.94 746.67,96.04 747.57,92.03 744.49,89.33 748.57,88.95" fill="#0000ff"/>
<polygon points="753.82,85.93 755.44,89.70 759.53,90.08 756.44,92.78 757.35,96.79 753.82,94.69 750.29,96.79 751.20,92.78 748.11,90.08 752.20,89.70" fill="#0000ff"/>
<polygon points="757.44,85.05 759.07,88.82 763.15,89.20 760.07,91.90 760.97,95.91 757.44,93.81 753.92,95.91 754.82,91.90 751.74,89.20 755.82,88.82" fill="#0000ff"/>
<polygon points="761.07,85.57 762.69,89.34 766.77,89.72 763.69,92.43 764.59,96.43 761.07,94.33 757.54,96.43 758.44,92.43 755.36,89.72 759.45,89.34" fill="#0000ff"/>
<polygon points="764.69,84.86 766.31,88.62 770.40,89.00 767.32,91.71 768.22,95.71 764.69,93.62 761.17,95.71 762.07,91.71 758.99,89.00 763.07,88.62" fill="#0000ff"/>
<polygon points="768.32,84.73 769.94,88.49 774.02,88.87 770.94,91.58 771.84,95.58 768.32,93.49 764.79,95.58 765.69,91.58 762.61,88.87 766.69,88.49" fill="#0000ff"/>
<polygon points="771.94,85.34 773.56,89.11 777.65,89.49 774.56,92.20 775.47,96.20 771.94,94.10 768.41,96.20 769.32,92.20 766.23,89.49 770.32,89.11" fill="#0000ff"/>
<polygon points="775.56,84.69 777.19,88.46 781.27,88.84 778.19,91.55 779.09,95.55 775.56,93.45 772.04,95.55 772.94,91.55 769.86,88.84 773.94,88.46" fill="#0000ff"/>
<polygon points="779.19,85.61 780.81,89.37 784.89,89.75 781.81,92.46 782.71,96.46 779.19,94.37 775.66,96.46 776.56,92.46 773.48,89.75 777.57,89.37" fill="#0000ff"/>
<polygon points="782.81,85.90 784.43,89.67 788.52,90.05 785.44,92.75 786.34,96.75 782.81,94.66 779.29,96.75 780.19,92.75 777.11,90.05 781.19,89.67" fill="#0000ff"/>
<polygon points="786.44,85.21 788.06,88.98 792.14,89.36 789.06,92.07 789.96,96.07 786.44,93.97 782.91,96.07 783.81,92.07 780.73,89.36 784.81,88.98" fill="#0000ff"/>
<polygon points="790.06,85.96 791.68,89.73 795.77,90.11 792.68,92.82 793.59,96.82 790.06,94.72 786.53,96.82 787.44,92.82 784.35,90.11 788.44,89.73" fill="#0000ff"/>
<polygon points="793.68,85.74 795.31,89.50 799.39,89.88 796.31,92.59 797.21,96.59 793.68,94.50 790.16,96.59 791.06,92.59 787.98,89.88 792.06,89.50" fill="#0000ff"/>
<polygon points="797.31,85.48 798.93,89.24 803.01,89.62 799.93,92.33 800.83,96.33 797.31,94.24 793.78,96.33 794.68,92.33 791.60,89.62 795.69,89.24" fill="#0000ff"/>
<polygon points="800.93,85.21 802.55,88.98 806.64,89.36 803.56,92.07 804.46,96.07 800.93,93.97 797.41,96.07 798.31,92.07 795.23,89.36 799.31,88.98" fill="#0000ff"/>
<polygon points="804.56,85.80 806.18,89.57 810.26,89.95 807.18,92.65 808.08,96.66 804.56,94.56 801.03,96.66 801.93,92.65 798.85,89.95 802.93,89.57" fill="#0000ff"/>
<polygon points="808.18,85.93 809.80,89.70 813.89,90.08 810.80,92.78 811.71,96.79 808.18,94.69 804.65,96.79 805.56,92.78 802.47,90.08 806.56,89.70" fill="#0000ff"/>
<polygon points="811.80,98.06 813.43,101.83 817.51,102.21 814.43,104.92 815.33,108.92 811.80,106.82 808.28,108.92 809.18,104.92 806.10,102.21 810.18,101.83" fill="#0000ff"/>
<polygon points="815.43,85.57 817.05,89.34 821.13,89.72 818.05,92.43 818.95,96.43 815.43,94.33 811.90,96.43 812.80,92.43 809.72,89.72 813.81,89.34" fill="#0000ff"/>
<polygon points="819.05,84.76 820.67,88.53 824.76,88.90 821.68,91.61 822.58,95.61 819.05,93.52 815.53,95.61 816.43,91.61 813.35,88.90 817.43,88.53" fill="#0000ff"/>
<polygon points="822.68,84.82 824.30,88.59 828.38,88.97 825.30,91.68 826.20,95.68 822.68,93.58 819.15,95.68 820.05,91.68 816.97,88.97 821.05,88.59" fill="#0000ff"/>
<polygon points="826.30,85.51 827.92,89.28 832.01,89.65 828.92,92.36 829.83,96.36 826.30,94.27 822.77,96.36 823.68,92.36 820.59,89.65 824.68,89.28" fill="#0000ff"/>
<polygon points="829.92,85.41 831.55,89.18 835.63,89.56 832.55,92.26 833.45,96.26 829.92,94.17 826.40,96.26 827.30,92.26 824.22,89.56 828.30,89.18" fill="#0000ff"/>
<polygon points="833.55,85.31 835.17,89.08 839.25,89.46 836.17,92.17 837.07,96.17 833.55,94.07 830.02,96.17 830.92,92.17 827.84,89.46 831.93,89.08" fill="#0000ff"/>
<polygon points="837.17,85.15 838.79,88.92 842.88,89.30 839.80,92.00 840.70,96.00 837.17,93.91 833.65,96.00 834.55,92.00 831.47,89.30 835.55,88.92" fill="#0000ff"/>
<polygon points="840.80,85.21 842.42,88.98 846.50,89.36 843.42,92.07 844.32,96.07 840.80,93.97 837.27,96.07 838.17,92.07 835.09,89.36 839.17,88.98" fill="#0000ff"/>
<polygon points="844.42,85.28 846.04,89.05 850.13,89.43 847.04,92.13 847.95,96.13 844.42,94.04 840.89,96.13 841.80,92.13 838.71,89.43 842.80,89.05" fill="#0000ff"/>
<polygon points="848.04,85.18 849.67,88.95 853.75,89.33 850.67,92.03 851.57,96.04 848.04,93.94 844.52,96.04 845.42,92.03 842.34,89.33 846.42,88.95" fill="#0000ff"/>
<polygon points="851.67,84.76 853.29,88.53 857.37,88.90 854.29,91.61 855.19,95.61 851.67,93.52 848.14,95.61 849.04,91.61 845.96,88.90 850.05,88.53" fill="#0000ff"/>
<polygon points="855.29,85.34 856.91,89.11 861.00,89.49 857.92,92.20 858.82,96.20 855.29,94.10 851.77,96.20 852.67,92.20 849.59,89.49 853.67,89.11" fill="#0000ff"/>
<polygon points="858.92,85.44 860.54,89.21 864.62,89.59 861.54,92.30 862.44,96.30 858.92,94.20 855.39,96.30 856.29,92.30 853.21,89.59 857.29,89.21" fill="#0000ff"/>
<polygon points="862.54,85.05 864.16,88.82 868.25,89.20 865.16,91.90 866.07,95.91 862.54,93.81 859.01,95.91 859.92,91.90 856.83,89.20 860.92,88.82" fill="#0000ff"/>
<polygon points="866.16,118.61 867.79,122.37 871.87,122.75 868.79,125.46 869.69,129.46 866.16,127.37 862.64,129.46 863.54,125.46 860.46,122.75 864.54,122.37" fill="#0000ff"/>
<polygon points="869.79,85.61 871.41,89.37 875.49,89.75 872.41,92.46 873.31,96.46 869.79,94.37 866.26,96.46 867.16,92.46 864.08,89.75 868.17,89.37" fill="#0000ff"/>
<polygon points="873.41,84.73 875.03,88.49 879.12,88.87 876.04,91.58 876.94,95.58 873.41,93.49 869.89,95.58 870.79,91.58 867.71,88.87 871.79,88.49" fill="#0000ff"/>
<polygon points="877.04,85.31 878.66,89.08 882.74,89.46 879.66,92.17 880.56,96.17 877.04,94.07 873.51,96.17 874.41,92.17 871.33,89.46 875.41,89.08" fill="#0000ff"/>
<polygon points="880.66,85.28 882.28,89.05 886.37,89.43 883.28,92.13 884.19,96.13 880.66,94.04 877.13,96.13 878.04,92.13 874.95,89.43 879.04,89.05" fill="#0000ff"/>
<polygon points="884.28,86.00 885.91,89.76 889.99,90.14 886.91,92.85 887.81,96.85 884.28,94.76 880.76,96.85 881.66,92.85 878.58,90.14 882.66,89.76" fill="#0000ff"/>
<polygon points="887.91,85.44 889.53,89.21 893.61,89.59 890.53,92.30 891.43,96.30 887.91,94.20 884.38,96.30 885.28,92.30 882.20,89.59 886.29,89.21" fill="#0000ff"/>
<polygon points="891.53,85.25 893.15,89.01 897.24,89.39 894.16,92.10 895.06,96.10 891.53,94.01 888.01,96.10 888.91,92.10 885.83,89.39 889.91,89.01" fill="#0000ff"/>
<polygon points="895.16,85.96 896.78,89.73 900.86,90.11 897.78,92.82 898.68,96.82 895.16,94.72 891.63,96.82 892.53,92.82 889.45,90.11 893.53,89.73" fill="#0000ff"/>
<polygon points="898.78,85.18 900.40,88.95 904.49,89.33 901.40,92.03 902.31,96.04 898.78,93.94 895.25,96.04 896.16,92.03 893.07,89.33 897.16,88.95" fill="#0000ff"/>
<polygon points="902.40,85.18 904.03,88.95 908.11,89.33 905.03,92.03 905.93,96.04 902.40,93.94 898.88,96.04 899.78,92.03 896.70,89.33 900.78,88.95" fill="#0000ff"/>
<polygon points="906.03,85.93 907.65,89.70 911.73,90.08 908.65,92.78 909.55,96.79 906.03,94.69 902.50,96.79 903.40,92.78 900.32,90.08 904.41,89.70" fill="#0000ff"/>
<polygon points="909.65,85.18 911.27,88.95 915.36,89.33 912.28,92.03 913.18,96.04 909.65,93.94 906.13,96.04 907.03,92.03 903.95,89.33 908.03,88.95" fill="#0000ff"/>
<polygon points="913.28,85.38 914.90,89.14 918.98,89.52 915.90,92.23 916.80,96.23 913.28,94.14 909.75,96.23 910.65,92.23 907.57,89.52 911.65,89.14" fill="#0000ff"/>
<polygon points="916.90,85.12 918.52,88.88 922.61,89.26 919.52,91.97 920.43,95.97 916.90,93.88 913.37,95.97 914.28,91.97 911.19,89.26 915.28,88.88" fill="#0000ff"/>
<polygon points="920.52,85.54 922.15,89.31 926.23,89.69 923.15,92.39 924.05,96.39 920.52,94.30 917.00,96.39 917.90,92.39 914.82,89.69 918.90,89.31" fill="#0000ff"/>
<polygon points="924.15,92.19 925.77,95.96 929.85,96.34 926.77,99.05 927.67,103.05 924.15,100.95 920.62,103.05 921.52,99.05 918.44,96.34 922.53,95.96" fill="#0000ff"/>
<polygon points="927.77,92.19 929.39,95.96 933.48,96.34 930.40,99.05 931.30,103.05 927.77,100.95 924.25,103.05 925.15,99.05 922.07,96.34 926.15,95.96" fill="#0000ff"/>
<polygon points="931.40,103.93 933.02,107.70 937.10,108.08 934.02,110.79 934.92,114.79 931.40,112.69 927.87,114.79 928.77,110.79 925.69,108.08 929.77,107.70" fill="#0000ff"/>
<polygon points="935.02,92.19 936.64,95.96 940.73,96.34 937.64,99.05 938.55,103.05 935.02,100.95 931.49,103.05 932.40,99.05 929.31,96.34 933.40,95.96" fill="#0000ff"/>
<polygon points="938.64,92.19 940.27,95.96 944.35,96.34 941.27,99.05 942.17,103.05 938.64,100.95 935.12,103.05 936.02,99.05 932.94,96.34 937.02,95.96" fill="#0000ff"/>
<polygon points="942.27,92.19 943.89,95.96 947.97,96.34 944.89,99.05 945.79,103.05 942.27,100.95 938.74,103.05 939.64,99.05 936.56,96.34 940.65,95.96" fill="#0000ff"/>
<polygon points="945.89,92.19 947.51,95.96 951.60,96.34 948.52,99.05 949.42,103.05 945.89,100.95 942.37,103.05 943.27,99.05 940.19,96.34 944.27,95.96" fill="#0000ff"/>
<polygon points="949.52,92.19 951.14,95.96 955.22,96.34 952.14,99.05 953.04,103.05 949.52,100.95 945.99,103.05 946.89,99.05 943.81,96.34 947.89,95.96" fill="#0000ff"/>
<polygon points="953.14,92.19 954.76,95.96 958.85,96.34 955.76,99.05 956.67,103.05 953.14,100.95 949.61,103.05 950.52,99.05 947.43,96.34 951.52,95.96" fill="#0000ff"/>
<polygon points="956.76,92.19 958.39,95.96 962.47,96.34 959.39,99.05 960.29,103.05 956.76,100.95 953.24,103.05 954.14,99.05 951.06,96.34 955.14,95.96" fill="#0000ff"/>
<polygon points="960.39,96.43 962.01,100.20 966.09,100.58 963.01,103.29 963.91,107.29 960.39,105.19 956.86,107.29 957.76,103.29 954.68,100.58 958.77,100.20" fill="#0000ff"/>
<rect x="644.22" y="263.59" width="9" height="9" fill="#000"/>
<rect x="647.85" y="143.26" width="9" height="9" fill="#000"/>
<rect x="651.47" y="123.69" width="9" height="9" fill="#000"/>
<rect x="655.10" y="117.82" width="9" height="9" fill="#000"/>
<rect x="658.72" y="112.93" width="9" height="9" fill="#000"/>
<rect x="662.34" y="109.02" width="9" height="9" fill="#000"/>
<rect x="665.97" y="106.08" width="9" height="9" fill="#000"/>
<rect x="669.59" y="103.48" width="9" height="9" fill="#000"/>
<rect x="673.22" y="101.52" width="9" height="9" fill="#000"/>
<rect x="676.84" y="100.22" width="9" height="9" fill="#000"/>
<rect x="680.46" y="98.91" width="9" height="9" fill="#000"/>
<rect x="684.09" y="97.93" width="9" height="9" fill="#000"/>
<rect x="687.71" y="97.28" width="9" height="9" fill="#000"/>
<rect x="691.34" y="96.63" width="9" height="9" fill="#000"/>
<rect x="694.96" y="95.65" width="9" height="9" fill="#000"/>
<rect x="698.58" y="113.26" width="9" height="9" fill="#000"/>
<rect x="702.21" y="91.08" width="9" height="9" fill="#000"/>
<rect x="705.83" y="80.32" width="9" height="9" fill="#000"/>
<rect x="709.46" y="88.80" width="9" height="9" fill="#000"/>
<rect x="713.08" y="88.48" width="9" height="9" fill="#000"/>
<rect x="716.70" y="88.48" width="9" height="9" fill="#000"/>
<rect x="720.33" y="88.15" width="9" height="9" fill="#000"/>
<rect x="723.95" y="109.67" width="9" height="9" fill="#000"/>
<rect x="727.58" y="86.94" width="9" height="9" fill="#000"/>
<rect x="731.20" y="86.45" width="9" height="9" fill="#000"/>
<rect x="734.82" y="86.75" width="9" height="9" fill="#000"/>
<rect x="738.45" y="86.36" width="9" height="9" fill="#000"/>
<rect x="742.07" y="86.32" width="9" height="9" fill="#000"/>
<rect x="745.70" y="87.24" width="9" height="9" fill="#000"/>
<rect x="749.32" y="87.30" width="9" height="9" fill="#000"/>
<rect x="752.94" y="97.93" width="9" height="9" fill="#000"/>
<rect x="756.57" y="86.91" width="9" height="9" fill="#000"/>
<rect x="760.19" y="86.94" width="9" height="9" fill="#000"/>
<rect x="763.82" y="85.70" width="9" height="9" fill="#000"/>
<rect x="767.44" y="86.55" width="9" height="9" fill="#000"/>
<rect x="771.06" y="85.96" width="9" height="9" fill="#000"/>
<rect x="774.69" y="86.55" width="9" height="9" fill="#000"/>
<rect x="778.31" y="86.29" width="9" height="9" fill="#000"/>
<rect x="781.94" y="83.26" width="9" height="9" fill="#000"/>
<rect x="785.56" y="86.29" width="9" height="9" fill="#000"/>
<rect x="789.18" y="85.93" width="9" height="9" fill="#000"/>
<rect x="792.81" y="86.49" width="9" height="9" fill="#000"/>
<rect x="796.43" y="83.26" width="9" height="9" fill="#000"/>
<rect x="800.06" y="86.23" width="9" height="9" fill="#000"/>
<rect x="803.68" y="87.24" width="9" height="9" fill="#000"/>
<rect x="807.30" y="86.09" width="9" height="9" fill="#000"/>
<rect x="810.93" y="86.36" width="9" height="9" fill="#000"/>
<rect x="814.55" y="86.84" width="9" height="9" fill="#000"/>
<rect x="818.18" y="87.27" width="9" height="9" fill="#000"/>
<rect x="821.80" y="85.93" width="9" height="9" fill="#000"/>
<rect x="825.42" y="86.55" width="9" height="9" fill="#000"/>
<rect x="829.05" y="86.16" width="9" height="9" fill="#000"/>
<rect x="832.67" y="85.90" width="9" height="9" fill="#000"/>
<rect x="836.30" y="86.16" width="9" height="9" fill="#000"/>
<rect x="839.92" y="83.26" width="9" height="9" fill="#000"/>
<rect x="843.54" y="86.68" width="9" height="9" fill="#000"/>
<rect x="847.17" y="86.03" width="9" height="9" fill="#000"/>
<rect x="850.79" y="86.62" width="9" height="9" fill="#000"/>
<rect x="854.42" y="85.80" width="9" height="9" fill="#000"/>
<rect x="858.04" y="85.90" width="9" height="9" fill="#000"/>
<rect x="861.66" y="101.52" width="9" height="9" fill="#000"/>
<rect x="865.29" y="84.27" width="9" height="9" fill="#000"/>
<rect x="868.91" y="84.07" width="9" height="9" fill="#000"/>
<rect x="872.54" y="83.26" width="9" height="9" fill="#000"/>
<rect x="876.16" y="83.26" width="9" height="9" fill="#000"/>
<rect x="879.78" y="83.26" width="9" height="9" fill="#000"/>
<rect x="883.41" y="84.11" width="9" height="9" fill="#000"/>
<rect x="887.03" y="84.20" width="9" height="9" fill="#000"/>
<rect x="890.66" y="84.63" width="9" height="9" fill="#000"/>
<rect x="894.28" y="84.43" width="9" height="9" fill="#000"/>
<rect x="897.90" y="85.12" width="9" height="9" fill="#000"/>
<rect x="901.53" y="84.30" width="9" height="9" fill="#000"/>
<rect x="905.15" y="83.26" width="9" height="9" fill="#000"/>
<rect x="908.78" y="85.02" width="9" height="9" fill="#000"/>
<rect x="912.40" y="85.28" width="9" height="9" fill="#000"/>
<rect x="916.02" y="48.69" width="9" height="9" fill="#000"/>
<rect x="919.65" y="93.04" width="9" height="9" fill="#000"/>
<rect x="923.27" y="93.04" width="9" height="9" fill="#000"/>
<rect x="926.90" y="93.04" width="9" height="9" fill="#000"/>
<rect x="930.52" y="93.04" width="9" height="9" fill="#000"/>
<rect x="934.14" y="93.04" width="9" height="9" fill="#000"/>
<rect x="937.77" y="93.04" width="9" height="9" fill="#000"/>
<rect x="941.39" y="93.04" width="9" height="9" fill="#000"/>
<rect x="945.02" y="93.04" width="9" height="9" fill="#000"/>
<rect x="948.64" y="93.04" width="9" height="9" fill="#000"/>
<rect x="952.26" y="93.04" width="9" height="9" fill="#000"/>
<circle cx="648.72" cy="236.13" r="5.1" fill="#f00"/>
<circle cx="652.35" cy="124.28" r="5.1" fill="#f00"/>
<circle cx="655.97" cy="110.91" r="5.1" fill="#f00"/>
<circle cx="659.60" cy="107.32" r="5.1" fill="#f00"/>
<circle cx="663.22" cy="104.72" r="5.1" fill="#f00"/>
<circle cx="666.84" cy="102.43" r="5.1" fill="#f00"/>
<circle cx="670.47" cy="100.80" r="5.1" fill="#f00"/>
<circle cx="674.09" cy="98.85" r="5.1" fill="#f00"/>
<circle cx="677.72" cy="104.06" r="5.1" fill="#f00"/>
<circle cx="681.34" cy="99.17" r="5.1" fill="#f00"/>
<circle cx="684.96" cy="100.15" r="5.1" fill="#f00"/>
<circle cx="688.59" cy="101.78" r="5.1" fill="#f00"/>
<circle cx="692.21" cy="102.43" r="5.1" fill="#f00"/>
<circle cx="695.84" cy="101.78" r="5.1" fill="#f00"/>
<circle cx="699.46" cy="99.82" r="5.1" fill="#f00"/>
<circle cx="703.08" cy="105.37" r="5.1" fill="#f00"/>
<circle cx="706.71" cy="96.56" r="5.1" fill="#f00"/>
<circle cx="710.33" cy="94.93" r="5.1" fill="#f00"/>
<circle cx="713.96" cy="91.34" r="5.1" fill="#f00"/>
<circle cx="717.58" cy="97.21" r="5.1" fill="#f00"/>
<circle cx="721.20" cy="94.83" r="5.1" fill="#f00"/>
<circle cx="724.83" cy="94.77" r="5.1" fill="#f00"/>
<circle cx="728.45" cy="95.71" r="5.1" fill="#f00"/>
<circle cx="732.08" cy="95.68" r="5.1" fill="#f00"/>
<circle cx="735.70" cy="94.87" r="5.1" fill="#f00"/>
<circle cx="739.32" cy="90.69" r="5.1" fill="#f00"/>
<circle cx="742.95" cy="98.85" r="5.1" fill="#f00"/>
<circle cx="746.57" cy="95.16" r="5.1" fill="#f00"/>
<circle cx="750.20" cy="94.96" r="5.1" fill="#f00"/>
<circle cx="753.82" cy="95.32" r="5.1" fill="#f00"/>
<circle cx="757.44" cy="102.43" r="5.1" fill="#f00"/>
<circle cx="761.07" cy="95.32" r="5.1" fill="#f00"/>
<circle cx="764.69" cy="95.26" r="5.1" fill="#f00"/>
<circle cx="768.32" cy="94.96" r="5.1" fill="#f00"/>
<circle cx="771.94" cy="95.36" r="5.1" fill="#f00"/>
<circle cx="775.56" cy="95.26" r="5.1" fill="#f00"/>
<circle cx="779.19" cy="94.74" r="5.1" fill="#f00"/>
<circle cx="782.81" cy="95.71" r="5.1" fill="#f00"/>
<circle cx="786.44" cy="95.00" r="5.1" fill="#f00"/>
<circle cx="790.06" cy="94.80" r="5.1" fill="#f00"/>
<circle cx="793.68" cy="95.36" r="5.1" fill="#f00"/>
<circle cx="797.31" cy="95.45" r="5.1" fill="#f00"/>
<circle cx="800.93" cy="94.70" r="5.1" fill="#f00"/>
<circle cx="804.56" cy="95.42" r="5.1" fill="#f00"/>
<circle cx="808.18" cy="95.52" r="5.1" fill="#f00"/>
<circle cx="811.80" cy="103.74" r="5.1" fill="#f00"/>
<circle cx="815.43" cy="94.83" r="5.1" fill="#f00"/>
<circle cx="819.05" cy="95.62" r="5.1" fill="#f00"/>
<circle cx="822.68" cy="95.32" r="5.1" fill="#f00"/>
<circle cx="826.30" cy="95.32" r="5.1" fill="#f00"/>
<circle cx="829.92" cy="94.67" r="5.1" fill="#f00"/>
<circle cx="833.55" cy="95.16" r="5.1" fill="#f00"/>
<circle cx="837.17" cy="94.64" r="5.1" fill="#f00"/>
<circle cx="840.80" cy="95.52" r="5.1" fill="#f00"/>
<circle cx="844.42" cy="95.32" r="5.1" fill="#f00"/>
<circle cx="848.04" cy="94.90" r="5.1" fill="#f00"/>
<circle cx="851.67" cy="94.61" r="5.1" fill="#f00"/>
<circle cx="855.29" cy="95.16" r="5.1" fill="#f00"/>
<circle cx="858.92" cy="95.45" r="5.1" fill="#f00"/>
<circle cx="862.54" cy="95.58" r="5.1" fill="#f00"/>
<circle cx="866.16" cy="111.89" r="5.1" fill="#f00"/>
<circle cx="869.79" cy="95.49" r="5.1" fill="#f00"/>
<circle cx="873.41" cy="94.70" r="5.1" fill="#f00"/>
<circle cx="877.04" cy="94.64" r="5.1" fill="#f00"/>
<circle cx="880.66" cy="95.52" r="5.1" fill="#f00"/>
<circle cx="884.28" cy="95.39" r="5.1" fill="#f00"/>
<circle cx="887.91" cy="94.70" r="5.1" fill="#f00"/>
<circle cx="891.53" cy="94.90" r="5.1" fill="#f00"/>
<circle cx="895.16" cy="94.70" r="5.1" fill="#f00"/>
<circle cx="898.78" cy="95.29" r="5.1" fill="#f00"/>
<circle cx="902.40" cy="95.58" r="5.1" fill="#f00"/>
<circle cx="906.03" cy="95.36" r="5.1" fill="#f00"/>
<circle cx="909.65" cy="94.70" r="5.1" fill="#f00"/>
<circle cx="913.28" cy="95.39" r="5.1" fill="#f00"/>
<circle cx="916.90" cy="95.29" r="5.1" fill="#f00"/>
<circle cx="920.52" cy="81.24" r="5.1" fill="#f00"/>
<circle cx="924.15" cy="105.37" r="5.1" fill="#f00"/>
<circle cx="927.77" cy="99.50" r="5.1" fill="#f00"/>
<circle cx="931.40" cy="98.19" r="5.1" fill="#f00"/>
<circle cx="935.02" cy="98.19" r="5.1" fill="#f00"/>
<circle cx="938.64" cy="100.15" r="5.1" fill="#f00"/>
<circle cx="942.27" cy="98.85" r="5.1" fill="#f00"/>
<circle cx="945.89" cy="90.69" r="5.1" fill="#f00"/>
<circle cx="949.52" cy="107.00" r="5.1" fill="#f00"/>
<circle cx="953.14" cy="98.85" r="5.1" fill="#f00"/>
<circle cx="956.76" cy="94.28" r="5.1" fill="#f00"/>
</g>
<rect x="608.6" y="56.4" width="398.9" height="292.95" fill="none" stroke="#000" stroke-width="2.6" stroke-linejoin="round"/>
<path d="M609.9 349.30h4.2 M609.9 333.02h1.8 M609.9 316.75h4.2 M609.9 300.48h1.8 M609.9 284.21h4.2 M609.9 267.94h1.8 M609.9 251.66h4.2 M609.9 235.39h1.8 M609.9 219.12h4.2 M609.9 202.85h1.8 M609.9 186.58h4.2 M609.9 170.30h1.8 M609.9 154.03h4.2 M609.9 137.76h1.8 M609.9 121.49h4.2 M609.9 105.22h1.8 M609.9 88.94h4.2 M609.9 72.67h1.8 M609.9 56.40h4.2 M645.10 348.1v-4.0 M681.34 348.1v-1.7 M717.58 348.1v-4.0 M753.82 348.1v-1.7 M790.06 348.1v-4.0 M826.30 348.1v-1.7 M862.54 348.1v-4.0 M898.78 348.1v-1.7 M935.02 348.1v-4.0 M971.26 348.1v-1.7 M1007.50 348.1v-4.0" stroke="#000" stroke-width="2.4" fill="none" stroke-linecap="round"/>
<text transform="translate(602.50,349.60) scale(1.0,1.06)" font-size="18.4" font-weight="bold" text-anchor="end">20</text>
<text transform="translate(602.50,317.05) scale(1.0,1.06)" font-size="18.4" font-weight="bold" text-anchor="end">30</text>
<text transform="translate(602.50,284.51) scale(1.0,1.06)" font-size="18.4" font-weight="bold" text-anchor="end">40</text>
<text transform="translate(602.50,251.96) scale(1.0,1.06)" font-size="18.4" font-weight="bold" text-anchor="end">50</text>
<text transform="translate(602.50,219.42) scale(1.0,1.06)" font-size="18.4" font-weight="bold" text-anchor="end">60</text>
<text transform="translate(602.50,186.88) scale(1.0,1.06)" font-size="18.4" font-weight="bold" text-anchor="end">70</text>
<text transform="translate(602.50,154.33) scale(1.0,1.06)" font-size="18.4" font-weight="bold" text-anchor="end">80</text>
<text transform="translate(602.50,121.79) scale(1.0,1.06)" font-size="18.4" font-weight="bold" text-anchor="end">90</text>
<text transform="translate(602.50,89.24) scale(1.0,1.06)" font-size="18.4" font-weight="bold" text-anchor="end">100</text>
<text transform="translate(602.50,56.70) scale(1.0,1.06)" font-size="18.4" font-weight="bold" text-anchor="end">110</text>
<text transform="translate(645.10,370.50) scale(1.0,1.06)" font-size="18.4" font-weight="bold" text-anchor="middle">0</text>
<text transform="translate(717.58,370.50) scale(1.0,1.06)" font-size="18.4" font-weight="bold" text-anchor="middle">20</text>
<text transform="translate(790.06,370.50) scale(1.0,1.06)" font-size="18.4" font-weight="bold" text-anchor="middle">40</text>
<text transform="translate(862.54,370.50) scale(1.0,1.06)" font-size="18.4" font-weight="bold" text-anchor="middle">60</text>
<text transform="translate(935.02,370.50) scale(1.0,1.06)" font-size="18.4" font-weight="bold" text-anchor="middle">80</text>
<text transform="translate(1007.50,370.50) scale(1.0,1.06)" font-size="18.4" font-weight="bold" text-anchor="middle">100</text>
<text x="808.20" y="397.50" font-size="23.5" font-weight="bold" text-anchor="middle">Cycle (times)</text>
<text transform="translate(559.5,221.7) rotate(-90)" font-size="24.5" font-weight="bold" text-anchor="middle">Coulombic efficiency (%)</text>
<text x="535.30" y="64.75" font-size="24.2" font-weight="bold">(b)</text>
<polygon points="871.10,227.80 872.72,231.57 876.81,231.95 873.72,234.65 874.63,238.65 871.10,236.56 867.57,238.65 868.48,234.65 865.39,231.95 869.48,231.57" fill="#0000ff"/>
<rect x="866.60" y="262.30" width="9" height="9" fill="#000"/>
<circle cx="871.10" cy="299.70" r="5.1" fill="#f00"/>
<text transform="translate(898.90,239.70) scale(1.0,1.07)" font-size="20.4" font-weight="bold">OMCS<tspan dx="0.3" dy="6.5" font-size="16.3">7</tspan></text>
<text transform="translate(898.90,272.70) scale(1.0,1.07)" font-size="20.4" font-weight="bold">OMCS<tspan dx="0.3" dy="6.5" font-size="16.3">9</tspan></text>
<text transform="translate(898.90,306.00) scale(1.0,1.07)" font-size="20.4" font-weight="bold">OMCS<tspan dx="0.3" dy="6.5" font-size="16.3">11</tspan></text>
</svg></body></html>
